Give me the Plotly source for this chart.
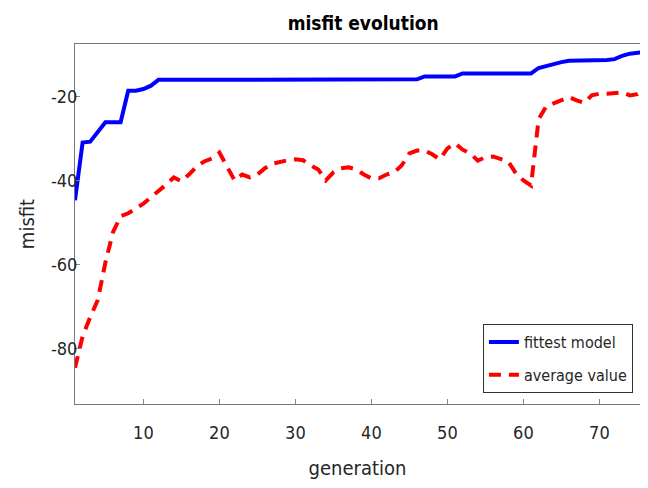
import plotly.graph_objects as go

generations = list(range(1, 78))

fittest_model = [
    -44.7, -31.0, -30.8, -28.5, -26.2, -26.2, -26.2, -18.7, -18.7, -18.3,
    -17.5, -16.1, -16.1, -16.1, -16.1, -16.1, -16.1, -16.1, -16.1, -16.0,
    -16.0, -16.0, -16.0, -16.0, -16.0, -16.0, -16.0, -16.0, -16.0, -16.0,
    -16.0, -16.0, -16.0, -16.0, -16.0, -16.0, -16.0, -16.0, -16.0, -16.0,
    -16.0, -16.0, -16.0, -16.0, -16.0, -16.0, -15.3, -15.3, -15.3, -15.3,
    -15.3, -14.6, -14.6, -14.6, -14.6, -14.6, -14.6, -14.6, -14.6, -14.6,
    -14.6, -13.3, -12.8, -12.2, -11.9, -11.6, -11.6, -11.5, -11.5, -11.5,
    -11.4, -11.2, -10.4, -9.9, -9.6, -9.5, -9.5,
]

average_value = [
    -84.5, -77.0, -72.5, -68.4, -59.5, -52.3, -48.5, -47.8, -46.7, -45.5,
    -44.0, -42.6, -41.0, -39.3, -40.2, -38.6, -36.7, -35.5, -34.8, -33.4,
    -36.7, -40.0, -38.6, -39.3, -38.6, -37.1, -36.0, -35.5, -35.2, -35.0,
    -35.2, -36.4, -37.4, -40.0, -38.1, -37.1, -36.9, -37.4, -38.6, -39.5,
    -39.5, -38.6, -38.1, -36.4, -33.6, -32.9, -32.9, -33.8, -35.0, -32.4,
    -31.2, -32.7, -33.6, -35.3, -34.5, -34.3, -34.8, -35.5, -38.3, -40.0,
    -41.2, -25.5, -22.4, -21.7, -21.0, -20.2, -21.0, -21.6, -19.8, -19.4,
    -19.4, -19.2, -19.1, -19.8, -19.5, -18.6, -18.3,
]

x_ticks = [10, 20, 30, 40, 50, 60, 70]
y_ticks = [-80, -60, -40, -20]

FONT = "Liberation Sans Narrow, Arial Narrow, DejaVu Sans Condensed, Liberation Sans, sans-serif"

fig = go.Figure()
fig.add_trace(go.Scatter(
    x=generations, y=fittest_model, mode="lines", name="fittest model",
    legendgroup="a",
    line=dict(color="#0000ff", width=4),
))
fig.add_trace(go.Scatter(
    x=generations, y=average_value, mode="lines", name="average value",
    legendgroup="b",
    line=dict(color="#ff0000", width=4, dash="12px,8px"),
))

fig.update_layout(
    width=632, height=472,
    margin=dict(l=67, r=0, t=36, b=76, autoexpand=False),
    paper_bgcolor="white", plot_bgcolor="white",
    font=dict(family=FONT, size=18, color="#262626"),
    title=dict(text="<b>misfit evolution</b>", x=0.562, xanchor="center",
               y=0.968, yanchor="middle", font=dict(size=19, color="black", family=FONT)),
    showlegend=True,
    legend=dict(
        x=0.722, y=0.222, xanchor="left", yanchor="top",
        bgcolor="white", bordercolor="#333333", borderwidth=1,
        font=dict(size=16, color="#262626", family=FONT),
        tracegroupgap=9, itemwidth=30, traceorder="grouped",
    ),
)

fig.update_xaxes(
    range=[1, 75.34], tickvals=x_ticks, ticktext=[str(v) for v in x_ticks],
    showgrid=False, zeroline=False, showline=True, linecolor="#777777", linewidth=1,
    mirror=True, ticks="inside", ticklen=5, tickcolor="#888888", automargin=False,
    title=dict(text="generation", font=dict(size=20, family=FONT, color="#262626"), standoff=22),
    tickfont=dict(size=18, family=FONT), ticklabelstandoff=12,
)
fig.update_yaxes(
    range=[-93.1, -7.6], tickvals=y_ticks, ticktext=[str(v) for v in y_ticks],
    showgrid=False, zeroline=False, showline=True, linecolor="#777777", linewidth=1,
    ticks="inside", ticklen=5, tickcolor="#888888", automargin=False,
    title=dict(text="misfit", font=dict(size=20, family=FONT, color="#262626"), standoff=10),
    tickfont=dict(size=18, family=FONT), ticklabelstandoff=-7,
)

fig.write_html("out.html")
